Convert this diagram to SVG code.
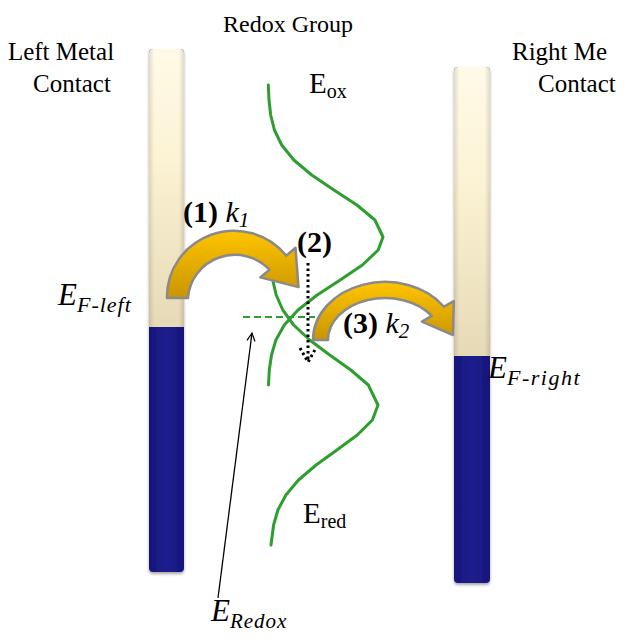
<svg xmlns="http://www.w3.org/2000/svg" width="630" height="638" viewBox="0 0 630 638">
  <defs>
    <linearGradient id="cream" x1="0" y1="0" x2="0" y2="1">
      <stop offset="0" stop-color="#FFFAE8"/>
      <stop offset="0.4" stop-color="#FCF3D4"/>
      <stop offset="1" stop-color="#E6D9B6"/>
    </linearGradient>
    <linearGradient id="creamH" x1="0" y1="0" x2="1" y2="0">
      <stop offset="0" stop-color="#000" stop-opacity="0.12"/>
      <stop offset="0.15" stop-color="#000" stop-opacity="0"/>
      <stop offset="0.85" stop-color="#000" stop-opacity="0"/>
      <stop offset="1" stop-color="#000" stop-opacity="0.12"/>
    </linearGradient>
    <linearGradient id="blue" x1="0" y1="0" x2="1" y2="0">
      <stop offset="0" stop-color="#16167A"/>
      <stop offset="0.5" stop-color="#1E1E8E"/>
      <stop offset="1" stop-color="#16167A"/>
    </linearGradient>
    <linearGradient id="gold" x1="0" y1="0" x2="0" y2="1">
      <stop offset="0" stop-color="#FFC400"/>
      <stop offset="1" stop-color="#C99500"/>
    </linearGradient>
    <marker id="openHead" viewBox="0 0 10 10" refX="9" refY="5" markerWidth="10" markerHeight="10" markerUnits="userSpaceOnUse" orient="auto">
      <path d="M1,1 L9,5 L1,9" fill="none" stroke="#000" stroke-width="1.2"/>
    </marker>
    <filter id="sh" x="-20%" y="-5%" width="140%" height="110%">
      <feGaussianBlur in="SourceAlpha" stdDeviation="1.5"/>
      <feOffset dx="0" dy="2"/>
      <feComponentTransfer><feFuncA type="linear" slope="0.35"/></feComponentTransfer>
      <feMerge><feMergeNode/><feMergeNode in="SourceGraphic"/></feMerge>
    </filter>
  </defs>
  <style>
    text { font-family: 'Liberation Serif', 'DejaVu Serif', serif; fill: #000; }
    .green { fill: none; stroke: #2E9E2E; stroke-width: 3; stroke-linejoin: round; stroke-linecap: round; }
    .arrowShape { fill: url(#gold); stroke: #8A8A8A; stroke-width: 2.5; stroke-linejoin: round; }
    .dotted { fill: none; stroke: #000; stroke-width: 3; stroke-dasharray: 2.5 3; }
  </style>
  <rect width="630" height="638" fill="#fff"/>

  <!-- Left metal contact -->
  <g id="left-contact" filter="url(#sh)">
    <rect x="149" y="49" width="35" height="523" rx="4" fill="url(#blue)"/>
    <path d="M149,327 V53 a4,4 0 0 1 4,-4 H180 a4,4 0 0 1 4,4 V327 Z" fill="url(#cream)"/>
    <path d="M149,327 V53 a4,4 0 0 1 4,-4 H180 a4,4 0 0 1 4,4 V327 Z" fill="url(#creamH)"/>
  </g>

  <!-- Right metal contact -->
  <g id="right-contact" filter="url(#sh)">
    <rect x="454" y="67" width="36" height="516" rx="4" fill="url(#blue)"/>
    <path d="M454,356 V71 a4,4 0 0 1 4,-4 H486 a4,4 0 0 1 4,4 V356 Z" fill="url(#cream)"/>
    <path d="M454,356 V71 a4,4 0 0 1 4,-4 H486 a4,4 0 0 1 4,4 V356 Z" fill="url(#creamH)"/>
  </g>

  <!-- Redox group curves -->
  <g id="redox-curves">
    <polyline class="green" points="268.3,85 269,100 270.7,115 274.4,130 281.7,145 293.8,160 311.7,175 333.9,190 356.9,205 374.9,220 383,237 378.2,250 362.4,265 340.2,280 317.2,295 298,310 284.3,325 275.9,340 271.5,355 269.3,370 268.5,385"/>
    <polyline class="green" points="270.4,250 271,265 272.7,280 276.2,295 282.8,310 293.7,325 309.7,340 329.7,355 350.8,370 368.3,385 378,405 372.4,420 357.3,435 336.9,450 316.1,465 298.5,480 285.9,495 277.9,510 273.6,525 271,545"/>
    <line x1="243" y1="317" x2="315" y2="317" stroke="#2E9E2E" stroke-width="2" stroke-dasharray="7 4"/>
  </g>

  <!-- Connectors -->
  <g id="connectors">
    <path id="arrow1" class="arrowShape" d="M167,298 A67,66 0 0 1 286.3,255.6 L295.5,247.8 L298.5,287.1 L260.3,277.4 L269.5,269.7 A47,46 0 0 0 188,298 Z"/>
    <path id="arrow2" class="arrowShape" d="M313,340 A72,58 0 0 1 444,306.7 L453.8,301 L453,335 L421.9,321.6 L431.7,315.9 A57,42 0 0 0 328,340 Z"/>
    <line class="dotted" x1="308" y1="263" x2="308" y2="360"/>
    <path class="dotted" d="M300,348 L308,362 L316,348"/>
    <line x1="218" y1="598" x2="252" y2="333" stroke="#000" stroke-width="1.3" marker-end="url(#openHead)"/>
  </g>

  <!-- Labels -->
  <g id="labels">
    <text x="288" y="32" font-size="24" text-anchor="middle">Redox Group</text>
    <text x="61" y="60" font-size="25" text-anchor="middle">Left Metal</text>
    <text x="72" y="92" font-size="25" text-anchor="middle">Contact</text>
    <text x="512" y="60" font-size="25">Right Me</text>
    <text x="538" y="92" font-size="25">Contact</text>
    <text x="309" y="93" font-size="29">E<tspan font-size="20" dy="5">ox</tspan></text>
    <text x="303" y="523" font-size="29">E<tspan font-size="20" dy="5">red</tspan></text>
    <text x="58" y="305" font-size="31" font-style="italic">E<tspan font-size="22" dy="7" letter-spacing="1">F-left</tspan></text>
    <text x="488" y="378" font-size="31" font-style="italic">E<tspan font-size="22" dy="7" letter-spacing="1.5">F-right</tspan></text>
    <text x="211" y="621" font-size="31" font-style="italic">E<tspan font-size="21" dy="7" letter-spacing="1">Redox</tspan></text>
    <text x="183" y="222" font-size="30"><tspan font-weight="bold">(1)</tspan> <tspan font-style="italic">k</tspan><tspan font-style="italic" font-size="21" dy="5">1</tspan></text>
    <text x="297" y="252" font-size="30" font-weight="bold">(2)</text>
    <text x="343" y="333" font-size="30"><tspan font-weight="bold">(3)</tspan> <tspan font-style="italic">k</tspan><tspan font-style="italic" font-size="21" dy="5">2</tspan></text>
  </g>
</svg>
